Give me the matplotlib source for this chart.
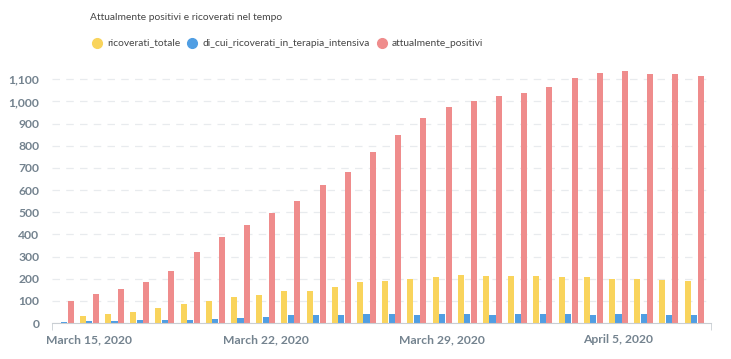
import numpy as np
import pandas as pd
import matplotlib
matplotlib.use("Agg")
import matplotlib.pyplot as plt
from matplotlib.lines import Line2D
from matplotlib.ticker import FuncFormatter, MultipleLocator

dates = pd.date_range("2020-03-14", "2020-04-08", freq="D")
ricoverati_totale = [0, 32, 41, 50, 68, 86, 99, 117, 126, 144, 144, 162, 185,
                     189, 198, 207, 216, 212, 212, 212, 207, 207, 198, 198, 194, 189]
terapia_intensiva = [4, 10, 10, 14, 14, 14, 18, 23, 27, 36, 36, 36, 41,
                     41, 36, 41, 41, 36, 41, 41, 41, 36, 41, 41, 36, 36]
attualmente_positivi = [99, 131, 153, 185, 234, 320, 388, 442, 496, 550, 622, 681, 771,
                        848, 924, 974, 1001, 1023, 1037, 1064, 1105, 1127, 1136, 1123, 1123, 1114]
tick_dates = ["2020-03-15", "2020-03-22", "2020-03-29", "2020-04-05"]

series = [
    ("ricoverati_totale", ricoverati_totale, "#F9D45C"),
    ("di_cui_ricoverati_in_terapia_intensiva", terapia_intensiva, "#509EE3"),
    ("attualmente_positivi", attualmente_positivi, "#EF8C8C"),
]

plt.rcParams["font.family"] = ["Lato", "DejaVu Sans"]
grey = "#74838F"
dark = "#454545"

fig = plt.figure(figsize=(7.31, 3.59), dpi=100)
ax = fig.add_axes([52 / 731, 36 / 359, (711 - 52) / 731, (323 - 66) / 359])

x = np.arange(len(dates))
w = 0.24
for i, (name, vals, col) in enumerate(series):
    ax.bar(x + (i - 1) * 0.26, vals, width=w, color=col, zorder=2)

ax.set_xlim(-0.48, 25.67)
ax.set_ylim(0, 1160)
ax.yaxis.set_major_locator(MultipleLocator(100))
ax.yaxis.set_major_formatter(FuncFormatter(lambda v, p: f"{int(v):,}"))
ax.grid(axis="y", color="#E8EBEE", linestyle=(0, (6, 5)), linewidth=0.9, zorder=0)

pos = [list(dates).index(pd.Timestamp(d)) for d in tick_dates]
ax.set_xticks(pos)
ax.set_xticklabels([pd.Timestamp(d).strftime("%B %-d, %Y") for d in tick_dates])
ax.set_xticks([-0.48, 25.67], minor=True)
ax.tick_params(axis="x", which="major", length=0, pad=8, labelsize=8.7, colors=grey)
ax.tick_params(axis="x", which="minor", length=5, color="#C9CED3")
ax.tick_params(axis="y", length=0, pad=9, labelsize=8.7, colors=grey)
for lab in ax.get_xticklabels() + ax.get_yticklabels():
    lab.set_fontweight("bold")

for s in ["top", "right", "left"]:
    ax.spines[s].set_visible(False)
ax.spines["bottom"].set_color("#C9CED3")

fig.text(90 / 731, 1 - 18 / 359, "Attualmente positivi e ricoverati nel tempo",
         fontsize=7.4, color=dark, va="center")

# legend, laid out by hand: marker, label, then the next one
fig.canvas.draw()
r = fig.canvas.get_renderer()
lx = 97
for name, _, col in series:
    fig.add_artist(Line2D([lx / 731], [1 - 43 / 359], transform=fig.transFigure,
                          marker="o", linestyle="", markersize=7, color=col))
    t = fig.text((lx + 10) / 731, 1 - 43 / 359, name, fontsize=7.4, color=dark,
                 va="center")
    lx = t.get_window_extent(r).x1 + 12

fig.savefig("out.png", dpi=100)
